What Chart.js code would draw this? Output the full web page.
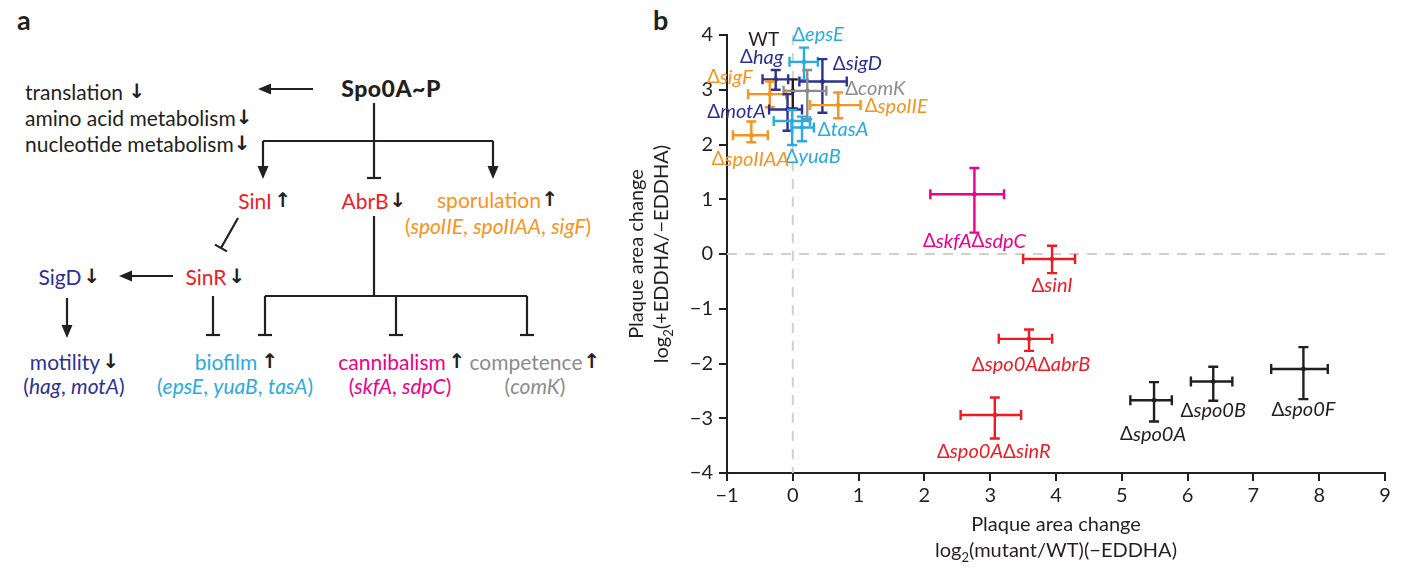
<!DOCTYPE html>
<html>
<head>
<meta charset="utf-8">
<script src="https://cdn.jsdelivr.net/npm/chart.js@4.4.1/dist/chart.umd.min.js"></script>
<style>
  html, body { margin: 0; padding: 0; background: #fff; }
  #wrap { position: relative; width: 1406px; height: 568px; overflow: hidden; font-family: Lato, "Noto Sans", sans-serif; }
  #diagram { position: absolute; left: 0; top: 0; }
  #c { position: absolute; left: 0; top: 0; }
  .panel { position: absolute; font-weight: bold; font-size: 27px; color: #231f20; line-height: 1; }
</style>
</head>
<body>
<div id="wrap">
  <svg id="diagram" width="620" height="568" font-family="Lato, 'Noto Sans', sans-serif" font-size="21" fill="#231f20">
    <g stroke="#231f20" stroke-width="2.2" fill="none">
      <!-- Spo0A~P -> translation etc -->
      <line x1="313" y1="89" x2="268" y2="89"/>
      <!-- trunk -->
      <line x1="374" y1="103" x2="374" y2="178"/>
      <line x1="367" y1="178" x2="381" y2="178"/>
      <line x1="263" y1="141" x2="493" y2="141"/>
      <line x1="263" y1="141" x2="263" y2="168"/>
      <line x1="493" y1="141" x2="493" y2="168"/>
      <!-- SinI -| SinR -->
      <line x1="238" y1="218" x2="221" y2="248"/>
      <line x1="215" y1="244.6" x2="227" y2="251.4"/>
      <!-- SinR -> SigD -->
      <line x1="173" y1="276" x2="128" y2="276"/>
      <!-- SigD -> motility -->
      <line x1="67" y1="298" x2="67" y2="327"/>
      <!-- SinR -| biofilm -->
      <line x1="213" y1="296" x2="213" y2="335"/>
      <line x1="206" y1="335" x2="220" y2="335"/>
      <!-- AbrB -| targets -->
      <line x1="374" y1="216" x2="374" y2="296"/>
      <line x1="265" y1="296" x2="527" y2="296"/>
      <line x1="265" y1="296" x2="265" y2="335"/>
      <line x1="258" y1="335" x2="272" y2="335"/>
      <line x1="396" y1="296" x2="396" y2="335"/>
      <line x1="389" y1="335" x2="403" y2="335"/>
      <line x1="527" y1="296" x2="527" y2="335"/>
      <line x1="520" y1="335" x2="534" y2="335"/>
    </g>
    <g fill="#231f20">
      <polygon points="258,89 271,83.5 271,94.5"/>
      <polygon points="263,179 257.5,166 268.5,166"/>
      <polygon points="493,179 487.5,166 498.5,166"/>
      <polygon points="119,276 132,270.5 132,281.5"/>
      <polygon points="67,338 61.5,325 72.5,325"/>
    </g>
    <g dominant-baseline="central">
      <text x="25" y="91">translation <tspan style="font-family:'DejaVu Sans'" font-size="20" font-weight="bold" fill="#231f20">&#x2193;&#xFE0E;</tspan></text>
      <text x="25" y="117">amino acid metabolism<tspan style="font-family:'DejaVu Sans'" font-size="20" font-weight="bold" fill="#231f20">&#x2193;&#xFE0E;</tspan></text>
      <text x="25" y="143">nucleotide metabolism<tspan style="font-family:'DejaVu Sans'" font-size="20" font-weight="bold" fill="#231f20">&#x2193;&#xFE0E;</tspan></text>
      <text x="391" y="88" text-anchor="middle" font-weight="900" font-size="23" letter-spacing="0.5">Spo0A~P</text>

      <text x="255" y="200" text-anchor="middle" fill="#ed1c24">SinI</text>
      <text x="365" y="200" text-anchor="middle" fill="#ed1c24">AbrB</text>
      <text x="489" y="199" text-anchor="middle" fill="#f7931e">sporulation</text>
      <text x="498" y="225" text-anchor="middle" fill="#f7931e">(<tspan font-style="italic">spoIIE</tspan>, <tspan font-style="italic">spoIIAA</tspan>, <tspan font-style="italic">sigF</tspan>)</text>

      <text x="60" y="276" text-anchor="middle" fill="#2e3192">SigD</text>
      <text x="206" y="276" text-anchor="middle" fill="#ed1c24">SinR</text>

      <text x="65" y="361" text-anchor="middle" fill="#2e3192">motility</text>
      <text x="74" y="385" text-anchor="middle" fill="#2e3192">(<tspan font-style="italic">hag</tspan>, <tspan font-style="italic">motA</tspan>)</text>
      <text x="226" y="361" text-anchor="middle" fill="#29abe2">biofilm</text>
      <text x="235" y="385" text-anchor="middle" fill="#29abe2">(<tspan font-style="italic">epsE</tspan>, <tspan font-style="italic">yuaB</tspan>, <tspan font-style="italic">tasA</tspan>)</text>
      <text x="392" y="361" text-anchor="middle" fill="#ec008c">cannibalism</text>
      <text x="400" y="385" text-anchor="middle" fill="#ec008c">(<tspan font-style="italic">skfA</tspan>, <tspan font-style="italic">sdpC</tspan>)</text>
      <text x="526" y="361" text-anchor="middle" fill="#8c8c8c">competence</text>
      <text x="535" y="385" text-anchor="middle" fill="#8c8c8c">(<tspan font-style="italic">comK</tspan>)</text>
    </g>
    <g dominant-baseline="central" text-anchor="middle" style="font-family:'DejaVu Sans'" font-size="20" font-weight="bold" fill="#231f20">
      <text x="283" y="200">&#x2191;&#xFE0E;</text>
      <text x="398" y="200">&#x2193;&#xFE0E;</text>
      <text x="550" y="199">&#x2191;&#xFE0E;</text>
      <text x="92" y="276">&#x2193;&#xFE0E;</text>
      <text x="237" y="276">&#x2193;&#xFE0E;</text>
      <text x="111" y="361">&#x2193;&#xFE0E;</text>
      <text x="270" y="361">&#x2191;&#xFE0E;</text>
      <text x="457" y="361">&#x2191;&#xFE0E;</text>
      <text x="592" y="361">&#x2191;&#xFE0E;</text>
    </g>
  </svg>
  <div class="panel" style="left:17px; top:6px;">a</div>
  <div class="panel" style="left:653px; top:6px;">b</div>
  <canvas id="c" width="1406" height="568"></canvas>
</div>
<script>
// strains and their measured plaque area changes (log2)
const strains = ['WT', 'ΔepsE', 'Δhag', 'ΔsigD', 'ΔcomK', 'ΔsigF', 'ΔspoIIE', 'ΔmotA', 'ΔtasA', 'ΔyuaB',
  'ΔspoIIAA', 'ΔskfAΔsdpC', 'ΔsinI', 'Δspo0AΔabrB', 'Δspo0AΔsinR', 'Δspo0A', 'Δspo0B', 'Δspo0F'];
const groups = ['wt', 'biofilm', 'motility', 'motility', 'competence', 'sporulation', 'sporulation', 'motility', 'biofilm', 'biofilm',
  'sporulation', 'cannibalism', 'sin', 'sin', 'sin', 'spo0', 'spo0', 'spo0'];
// x: log2(mutant/WT)(-EDDHA)
const xMean = [0.0, 0.17, -0.26, 0.45, 0.22, -0.35, 0.69, -0.08, 0.14, -0.01, -0.63, 2.76, 3.94, 3.59, 3.07, 5.49, 6.39, 7.76];
const xLow  = [0.0, -0.05, -0.46, 0.10, -0.14, -0.68, 0.26, -0.36, -0.02, -0.29, -0.91, 2.09, 3.50, 3.13, 2.55, 5.13, 6.05, 7.27];
const xHigh = [0.0, 0.38, -0.07, 0.82, 0.51, -0.10, 1.03, 0.14, 0.32, 0.26, -0.38, 3.21, 4.29, 3.94, 3.47, 5.76, 6.68, 8.13];
// y: log2(+EDDHA/-EDDHA)
const yMean = [2.98, 3.51, 3.19, 3.15, 2.98, 2.92, 2.72, 2.64, 2.31, 2.43, 2.17, 1.09, -0.09, -1.55, -2.94, -2.67, -2.33, -2.10];
const yLow  = [2.66, 3.18, 3.00, 2.58, 2.46, 2.68, 2.48, 2.25, 2.06, 1.99, 2.04, 0.39, -0.35, -1.77, -3.37, -3.06, -2.68, -2.65];
const yHigh = [3.19, 3.77, 3.36, 3.56, 3.36, 3.15, 2.95, 2.92, 2.51, 2.63, 2.42, 1.57, 0.15, -1.38, -2.62, -2.34, -2.06, -1.70];
const xTicks = [-1, 0, 1, 2, 3, 4, 5, 6, 7, 8, 9];
const yTicks = [-4, -3, -2, -1, 0, 1, 2, 3, 4];

const groupColors = {
  wt: '#231f20', biofilm: '#29abe2', motility: '#2e3192', competence: '#8c8c8c',
  sporulation: '#f7931e', cannibalism: '#ec008c', sin: '#ed1c24', spo0: '#231f20'
};
// label offsets from the point, in pixels
const labelOffsets = [[-29, -51], [14, -27], [-14, -22], [35, -18], [68, -2], [-40, -17], [58, 1], [-51, 2], [41, 2], [21, 36],
  [-1, 24], [0, 47], [0, 27], [2, 26], [-1, 37], [-1, 34], [0, 29], [0, 41]];

const INK = '#231f20';
const FONT = 'Lato, "Noto Sans", sans-serif';
const colors = groups.map(g => groupColors[g]);

const minus = v => String(v).replace('-', '\u2212');

const guides = {
  id: 'guides',
  beforeDatasetsDraw(chart) {
    const { ctx, chartArea: a, scales: { x, y } } = chart;
    ctx.save();
    ctx.strokeStyle = '#d0d0d0';
    ctx.lineWidth = 2;
    ctx.setLineDash([10, 8]);
    const x0 = x.getPixelForValue(0), y0 = y.getPixelForValue(0);
    ctx.beginPath();
    ctx.moveTo(x0, a.top); ctx.lineTo(x0, a.bottom);
    ctx.moveTo(a.left, y0); ctx.lineTo(a.right, y0);
    ctx.stroke();
    ctx.restore();
  }
};

const errorBars = {
  id: 'errorBars',
  afterDatasetsDraw(chart) {
    const { ctx, scales: { x, y } } = chart;
    const cap = 5;
    ctx.save();
    ctx.lineWidth = 2.4;
    strains.forEach((s, i) => {
      const px = x.getPixelForValue(xMean[i]), py = y.getPixelForValue(yMean[i]);
      const xl = x.getPixelForValue(xLow[i]), xh = x.getPixelForValue(xHigh[i]);
      const yl = y.getPixelForValue(yLow[i]), yh = y.getPixelForValue(yHigh[i]);
      ctx.strokeStyle = colors[i];
      ctx.beginPath();
      ctx.moveTo(px, yl); ctx.lineTo(px, yh);
      ctx.moveTo(px - cap, yl); ctx.lineTo(px + cap, yl);
      ctx.moveTo(px - cap, yh); ctx.lineTo(px + cap, yh);
      if (xh - xl > 1) {
        ctx.moveTo(xl, py); ctx.lineTo(xh, py);
        ctx.moveTo(xl, py - cap); ctx.lineTo(xl, py + cap);
        ctx.moveTo(xh, py - cap); ctx.lineTo(xh, py + cap);
      }
      ctx.stroke();
    });
    ctx.restore();
  }
};

const pointLabels = {
  id: 'pointLabels',
  afterDatasetsDraw(chart) {
    const { ctx, scales: { x, y } } = chart;
    ctx.save();
    ctx.textBaseline = 'middle';
    strains.forEach((s, i) => {
      const cx = x.getPixelForValue(xMean[i]) + labelOffsets[i][0];
      const cy = y.getPixelForValue(yMean[i]) + labelOffsets[i][1];
      // split into upright Δ and italic gene names
      const parts = s.split(/(Δ)/).filter(p => p);
      const fonts = parts.map(p => (p === 'Δ' || s === 'WT') ? `19px ${FONT}` : `italic 20px ${FONT}`);
      let w = 0;
      const ws = parts.map((p, k) => { ctx.font = fonts[k]; const m = ctx.measureText(p).width; w += m; return m; });
      let cur = cx - w / 2;
      ctx.fillStyle = colors[i];
      parts.forEach((p, k) => {
        ctx.font = fonts[k];
        ctx.textAlign = 'left';
        ctx.fillText(p, cur, cy);
        cur += ws[k];
      });
    });
    ctx.restore();
  }
};

// axis titles with a subscript 2 in log2
function drawSubTitle(ctx, cx, cy, rest) {
  const big = `20px ${FONT}`, small = `13px ${FONT}`;
  ctx.font = big; const w1 = ctx.measureText('log').width;
  ctx.font = small; const w2 = ctx.measureText('2').width;
  ctx.font = big; const w3 = ctx.measureText(rest).width;
  let cur = cx - (w1 + w2 + w3) / 2;
  ctx.textAlign = 'left';
  ctx.font = big; ctx.fillText('log', cur, cy); cur += w1;
  ctx.font = small; ctx.fillText('2', cur, cy + 7); cur += w2;
  ctx.font = big; ctx.fillText(rest, cur, cy);
}

const axisTitles = {
  id: 'axisTitles',
  afterDraw(chart) {
    const { ctx, chartArea: a } = chart;
    ctx.save();
    ctx.fillStyle = INK;
    ctx.textBaseline = 'middle';
    const mx = (a.left + a.right) / 2;
    ctx.font = `20px ${FONT}`;
    ctx.textAlign = 'center';
    ctx.fillText('Plaque area change', mx, a.bottom + 52);
    drawSubTitle(ctx, mx, a.bottom + 78, '(mutant/WT)(\u2212EDDHA)');

    const my = (a.top + a.bottom) / 2;
    ctx.translate(a.left - 90, my);
    ctx.rotate(-Math.PI / 2);
    ctx.font = `20px ${FONT}`;
    ctx.textAlign = 'center';
    ctx.fillText('Plaque area change', 0, 0);
    ctx.restore();
    ctx.save();
    ctx.fillStyle = INK;
    ctx.textBaseline = 'middle';
    ctx.translate(a.left - 65, my);
    ctx.rotate(-Math.PI / 2);
    drawSubTitle(ctx, 0, 0, '(+EDDHA/\u2212EDDHA)');
    ctx.restore();
  }
};

new Chart(document.getElementById('c'), {
  type: 'scatter',
  data: {
    datasets: [{
      data: strains.map((s, i) => ({ x: xMean[i], y: yMean[i] })),
      pointBackgroundColor: colors,
      pointBorderColor: colors,
      pointRadius: 2,
      pointHoverRadius: 2,
    }],
  },
  options: {
    responsive: false,
    animation: false,
    events: [],
    layout: { padding: { left: 680, top: 35, right: 21, bottom: 55 } },
    plugins: { legend: { display: false }, tooltip: { enabled: false } },
    scales: {
      x: {
        type: 'linear', min: -1, max: 9,
        afterBuildTicks: s => { s.ticks = xTicks.map(v => ({ value: v })); },
        afterFit: s => { s.height = 40; },
        grid: { drawOnChartArea: false, drawTicks: true, tickLength: 8, color: INK, lineWidth: 2 },
        border: { color: INK, width: 2 },
        ticks: { color: INK, font: { family: FONT, size: 20 }, padding: 3, callback: v => minus(v) },
      },
      y: {
        type: 'linear', min: -4, max: 4,
        afterBuildTicks: s => { s.ticks = yTicks.map(v => ({ value: v })); },
        afterFit: s => { s.width = 47; },
        grid: { drawOnChartArea: false, drawTicks: true, tickLength: 8, color: INK, lineWidth: 2 },
        border: { color: INK, width: 2 },
        ticks: { color: INK, font: { family: FONT, size: 20 }, padding: 6, callback: v => minus(v) },
      },
    },
  },
  plugins: [guides, errorBars, pointLabels, axisTitles],
});
</script>
</body>
</html>
